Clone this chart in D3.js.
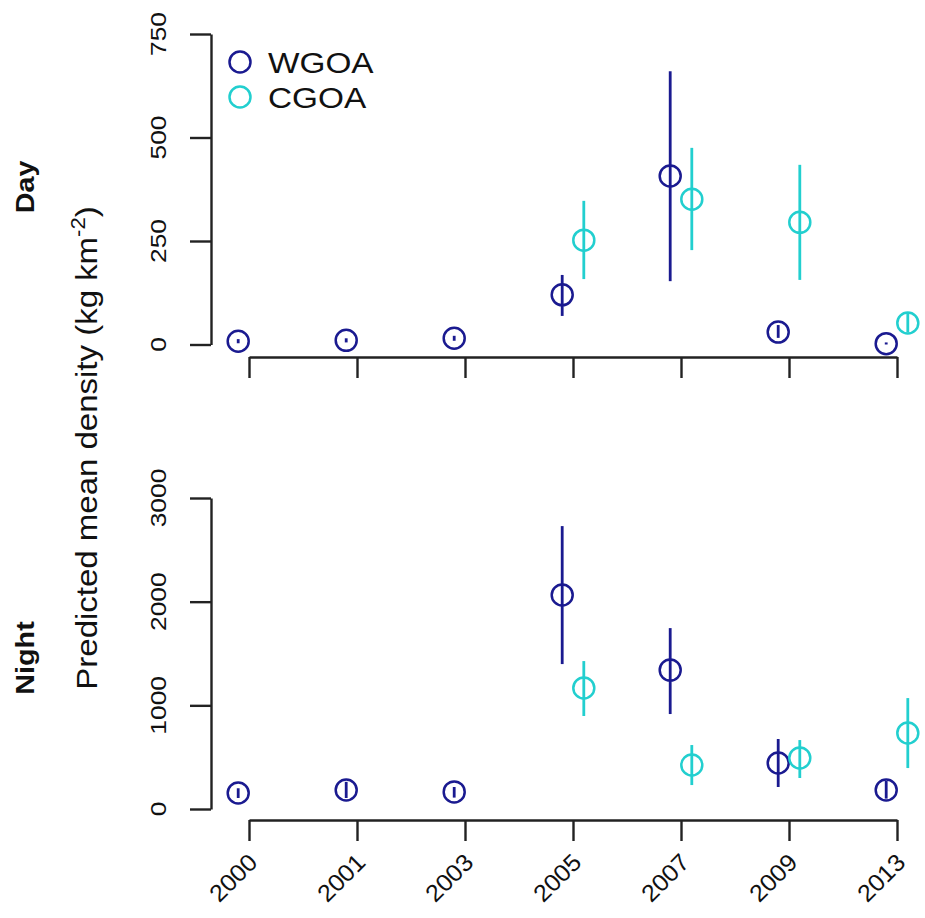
<!DOCTYPE html>
<html>
<head>
<meta charset="utf-8">
<script src="https://cdn.jsdelivr.net/npm/d3@7"></script>
<style>
  html, body { margin: 0; padding: 0; background: #fff; }
  svg { display: block; font-family: "Liberation Sans", Arial, sans-serif; }
</style>
</head>
<body>
<svg id="chart" width="925" height="918"></svg>
<script>
// Survey years
const years = ["2000", "2001", "2003", "2005", "2007", "2009", "2013"];
const cgoaYears = ["2005", "2007", "2009", "2013"];

// Day: predicted mean density with interval bounds
const dayWgoa   = [8, 10, 15, 120, 407, 30, 2];
const dayWgoaLo = [3, 5, 9, 69, 153, 16, 0];
const dayWgoaHi = [13, 15, 21, 168, 660, 47, 5];
const dayCgoa   = [252, 351, 295, 52];
const dayCgoaLo = [158, 228, 156, 29];
const dayCgoaHi = [347, 475, 434, 77];

// Night: predicted mean density with interval bounds
const nightWgoa   = [154, 183, 165, 2064, 1340, 444, 183];
const nightWgoaLo = [106, 106, 110, 1398, 916, 212, 100];
const nightWgoaHi = [200, 262, 212, 2729, 1745, 675, 270];
const nightCgoa   = [1167, 424, 492, 733];
const nightCgoaLo = [897, 231, 299, 395];
const nightCgoaHi = [1427, 617, 665, 1070];

const dayTicks = [0, 250, 500, 750];
const nightTicks = [0, 1000, 2000, 3000];
const seriesNames = ["WGOA", "CGOA"];
const colors = { WGOA: "#1a1a90", CGOA: "#22cfcf" };

const svg = d3.select("#chart");
const stretch = 1.15;       // glyph widening along the text direction
const axisColor = "#222";

const x = d3.scalePoint().domain(years).range([249, 897]);
const dodge = x.step() * 0.1;

const panels = [
  {
    name: "Day", ticks: dayTicks, domain: [0, 750], yRange: [344.5, 34], xAxisY: 357,
    labelY: 187,
    series: [
      { key: "WGOA", cats: years, v: dayWgoa, lo: dayWgoaLo, hi: dayWgoaHi, off: -dodge },
      { key: "CGOA", cats: cgoaYears, v: dayCgoa, lo: dayCgoaLo, hi: dayCgoaHi, off: dodge }
    ]
  },
  {
    name: "Night", ticks: nightTicks, domain: [0, 3000], yRange: [809, 498], xAxisY: 820,
    labelY: 658,
    series: [
      { key: "WGOA", cats: years, v: nightWgoa, lo: nightWgoaLo, hi: nightWgoaHi, off: -dodge },
      { key: "CGOA", cats: cgoaYears, v: nightCgoa, lo: nightCgoaLo, hi: nightCgoaHi, off: dodge }
    ]
  }
];

function styleAxis(g) {
  g.selectAll("path.domain").attr("stroke", axisColor).attr("stroke-width", 2.4);
  g.selectAll(".tick line").attr("stroke", axisColor).attr("stroke-width", 2.4);
  g.selectAll(".tick text").remove();
}

panels.forEach((p, pi) => {
  const y = d3.scaleLinear().domain(p.domain).range(p.yRange);

  // y axis
  const gy = svg.append("g").attr("transform", "translate(211,0)")
    .call(d3.axisLeft(y).tickValues(p.ticks).tickSize(21).tickSizeOuter(0).tickFormat(""));
  styleAxis(gy);
  svg.append("g").selectAll("text").data(p.ticks).join("text")
    .attr("transform", d => `translate(166,${y(d)}) rotate(-90) scale(1.2,1)`)
    .attr("text-anchor", "middle")
    .attr("font-size", 22)
    .attr("fill", "#111")
    .text(d => d);

  // x axis
  const gx = svg.append("g").attr("transform", `translate(0,${p.xAxisY})`)
    .call(d3.axisBottom(x).tickSize(21).tickSizeOuter(0).tickFormat(""));
  styleAxis(gx);

  // panel label
  svg.append("text")
    .attr("transform", `translate(34,${p.labelY}) rotate(-90) scale(${stretch},1)`)
    .attr("text-anchor", "middle")
    .attr("font-size", 25)
    .attr("font-weight", "bold")
    .attr("fill", "#111")
    .text(p.name);

  // interval bars, then open circles
  p.series.forEach(s => {
    const rows = s.cats.map((c, i) => ({ c, v: s.v[i], lo: s.lo[i], hi: s.hi[i] }));
    const g = svg.append("g").attr("class", "series " + s.key);
    g.selectAll("line").data(rows).join("line")
      .attr("x1", d => x(d.c) + s.off).attr("x2", d => x(d.c) + s.off)
      .attr("y1", d => y(d.lo)).attr("y2", d => y(d.hi))
      .attr("stroke", colors[s.key]).attr("stroke-width", 2.8);
    g.selectAll("circle").data(rows).join("circle")
      .attr("cx", d => x(d.c) + s.off).attr("cy", d => y(d.v))
      .attr("r", 10.5)
      .attr("fill", "none")
      .attr("stroke", colors[s.key]).attr("stroke-width", 2.5);
  });

  // year labels under the night panel only
  if (pi === 1) {
    svg.append("g").selectAll("text").data(years).join("text")
      .attr("transform", d => `translate(${x(d) + 4},${p.xAxisY + 38}) rotate(-45) scale(1.05,1)`)
      .attr("text-anchor", "end")
      .attr("dominant-baseline", "central")
      .attr("font-size", 24)
      .attr("fill", "#111")
      .text(d => d);
  }
});

// shared y-axis title
const title = svg.append("text")
  .attr("transform", `translate(97,448) rotate(-90) scale(1.1,1)`)
  .attr("text-anchor", "middle")
  .attr("font-size", 30)
  .attr("fill", "#111");
title.append("tspan").text("Predicted mean density (kg km");
title.append("tspan").attr("font-size", 20).attr("dy", -12).text("-2");
title.append("tspan").attr("dy", 12).text(")");

// legend
const legend = svg.append("g");
seriesNames.forEach((name, i) => {
  const ly = 62 + i * 35;
  legend.append("circle")
    .attr("cx", 240).attr("cy", ly).attr("r", 10.5)
    .attr("fill", "none").attr("stroke", colors[name]).attr("stroke-width", 2.5);
  legend.append("text")
    .attr("transform", `translate(268,${ly + 10.5}) scale(${stretch},1)`)
    .attr("font-size", 29)
    .attr("fill", "#111")
    .text(name);
});
</script>
</body>
</html>
